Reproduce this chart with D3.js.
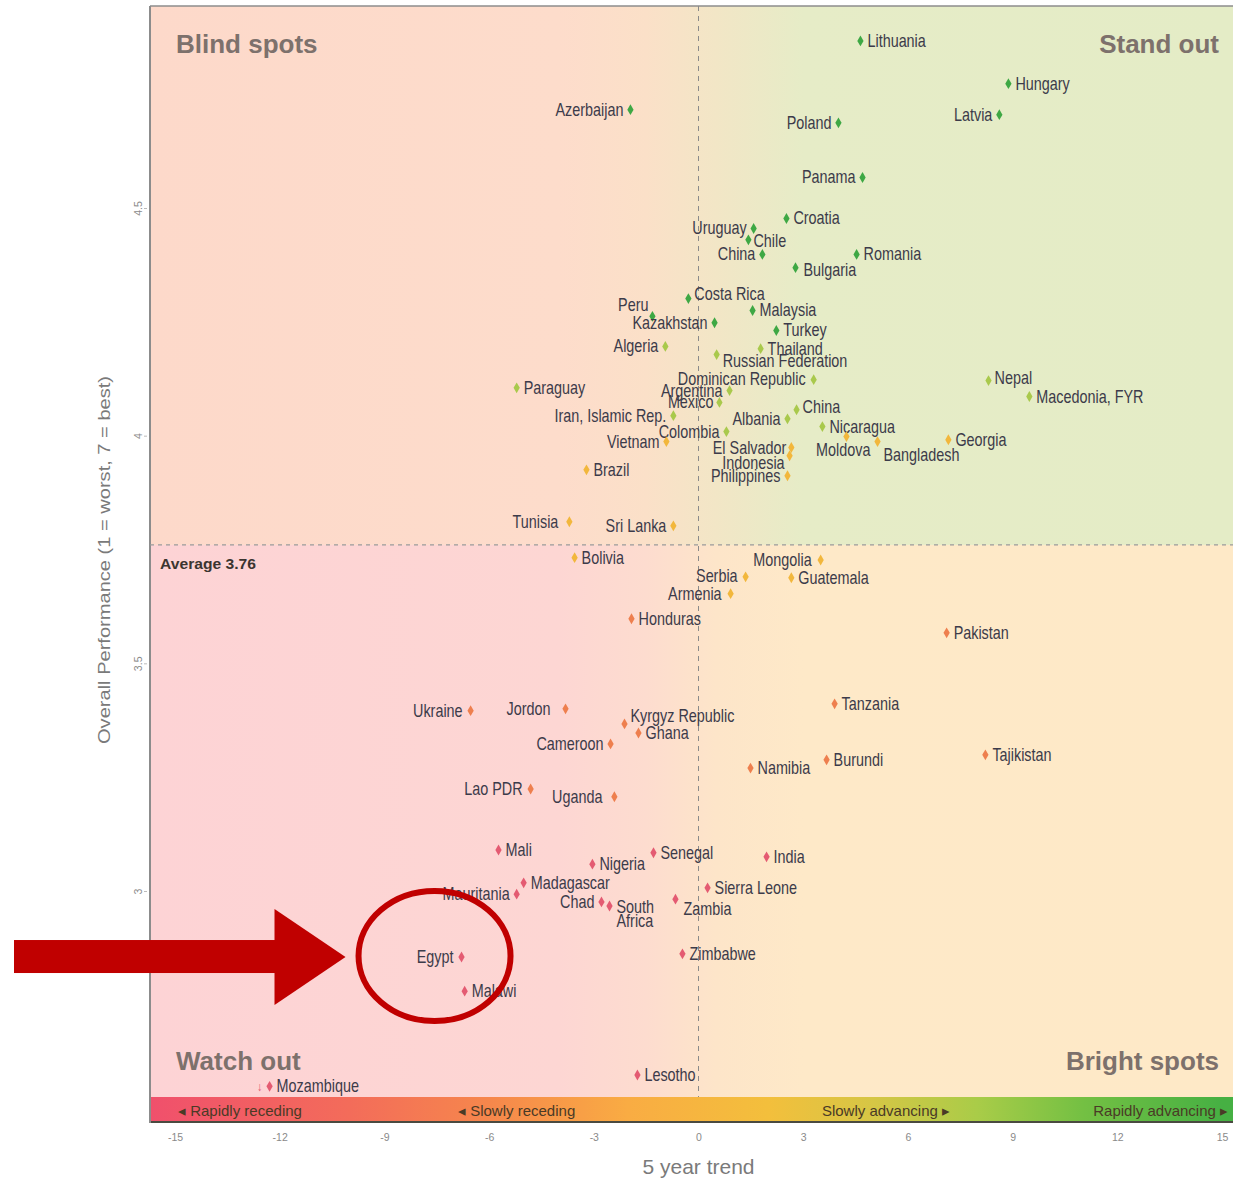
<!DOCTYPE html>
<html>
<head>
<meta charset="utf-8">
<script src="https://cdn.jsdelivr.net/npm/d3@7"></script>
<style>
  body { margin: 0; background: #fff; }
  svg { display: block; }
  .lbl { font-family: "Liberation Sans", Arial, sans-serif; font-size: 18px; fill: #3c3b4a; }
</style>
</head>
<body>
<div class="chart"></div>
<script>
// countries, 5 year trend (x) and overall performance (y)
var countries = ["Lithuania","Hungary","Azerbaijan","Latvia","Poland","Panama","Croatia","Uruguay","Chile","China",
  "Romania","Bulgaria","Costa Rica","Peru","Malaysia","Kazakhstan","Turkey","Algeria","Thailand","Russian Federation",
  "Paraguay","Dominican Republic","Nepal","Argentina","Mexico","Macedonia, FYR","Iran, Islamic Rep.","China ","Albania","Colombia",
  "Nicaragua","Vietnam","Georgia","El Salvador","Moldova","Bangladesh","Indonesia","Brazil","Philippines","Tunisia",
  "Sri Lanka","Bolivia","Mongolia","Serbia","Guatemala","Armenia","Honduras","Pakistan","Tanzania","Ukraine",
  "Jordon","Kyrgyz Republic","Ghana","Cameroon","Tajikistan","Burundi","Namibia","Lao PDR","Uganda","Mali",
  "Senegal","India","Nigeria","Madagascar","Sierra Leone","Mauritania","Chad","South Africa","Zambia","Egypt",
  "Zimbabwe","Malawi","Lesotho","Mozambique"];

var trend = [4.64, 8.88, -1.95, 8.62, 4.01, 4.70, 2.52, 1.58, 1.43, 1.83,
  4.53, 2.78, -0.29, -1.32, 1.55, 0.46, 2.23, -0.95, 1.78, 0.52,
  -5.21, 3.30, 8.31, 0.89, 0.60, 9.48, -0.72, 2.81, 2.55, 0.80,
  3.55, -0.92, 7.16, 2.66, 4.24, 5.13, 2.61, -3.21, 2.55, -3.70,
  -0.72, -3.55, 3.50, 1.35, 2.66, 0.92, -1.92, 7.11, 3.90, -6.53,
  -3.81, -2.12, -1.72, -2.52, 8.22, 3.67, 1.49, -4.81, -2.41, -5.73,
  -1.29, 1.95, -3.04, -5.01, 0.26, -5.21, -2.78, -2.55, -0.66, -6.79,
  -0.46, -6.70, -1.75, -12.29];

var performance = [4.867, 4.773, 4.716, 4.705, 4.687, 4.567, 4.477, 4.455, 4.430, 4.398,
  4.398, 4.369, 4.301, 4.262, 4.275, 4.248, 4.231, 4.196, 4.191, 4.178,
  4.105, 4.123, 4.121, 4.099, 4.073, 4.086, 4.044, 4.057, 4.037, 4.009,
  4.020, 3.987, 3.991, 3.974, 3.998, 3.987, 3.956, 3.925, 3.912, 3.811,
  3.802, 3.732, 3.727, 3.690, 3.688, 3.653, 3.598, 3.567, 3.411, 3.396,
  3.400, 3.367, 3.347, 3.323, 3.299, 3.288, 3.270, 3.224, 3.207, 3.090,
  3.084, 3.075, 3.059, 3.018, 3.007, 2.993, 2.976, 2.967, 2.982, 2.855,
  2.862, 2.780, 2.596, 2.571];

var average = 3.76;
var xTicks = [-15, -12, -9, -6, -3, 0, 3, 6, 9, 12, 15];
var yTicks = [3, 3.5, 4, 4.5];
var quadrants = ["Blind spots", "Stand out", "Watch out", "Bright spots"];
var bandLabels = ["Rapidly receding", "Slowly receding", "Slowly advancing", "Rapidly advancing"];

var W = 1233, H = 1182;
var plotLeft = 150, plotTop = 6, bandTop = 1097, plotBottom = 1123, plotRight = 1300;
var squeeze = 0.8;   // label fonts in the reference are condensed

var svg = d3.select(".chart").append("svg")
  .attr("width", W).attr("height", H);

var x = d3.scaleLinear().domain([-15, 15]).range([175, 1222]);
var y = d3.scaleLinear().domain([3, 4.5]).range([891, 208]);

var color = d3.scaleThreshold()
  .domain([3.15, 3.62, 4.0, 4.22])
  .range(["#e45b72", "#ee7f4e", "#f2b73c", "#a9c94c", "#3ea844"]);

// background gradients
var defs = svg.append("defs");
function grad(id, stops) {
  var g = defs.append("linearGradient").attr("id", id)
    .attr("gradientUnits", "userSpaceOnUse")
    .attr("x1", plotLeft).attr("x2", W).attr("y1", 0).attr("y2", 0);
  stops.forEach(function(s) {
    g.append("stop").attr("offset", (x(s[0]) - plotLeft) / (W - plotLeft)).attr("stop-color", s[1]);
  });
}
grad("gTop", [[-15.7, "#fdd9ca"], [-4, "#fddccb"], [-1.5, "#fbe0c8"], [0.5, "#f2e6c6"], [3, "#e6ecc7"], [15, "#e4ecc6"]]);
grad("gBot", [[-15.7, "#fdd3d5"], [-4, "#fdd6d3"], [-1.5, "#fddccf"], [0.5, "#fde5c9"], [3, "#fee9c8"], [15, "#fee9c7"]]);
grad("gBand", [[-15.7, "#f0506c"], [-10, "#f36c5a"], [-6, "#f6874c"], [-2, "#f9ac43"], [2, "#f3bf3c"], [5, "#d6c645"],
  [8, "#a9cc48"], [11, "#74c043"], [15, "#46b043"]]);

svg.append("rect").attr("x", plotLeft).attr("y", plotTop).attr("width", plotRight - plotLeft)
  .attr("height", y(average) - plotTop).attr("fill", "url(#gTop)");
svg.append("rect").attr("x", plotLeft).attr("y", y(average)).attr("width", plotRight - plotLeft)
  .attr("height", bandTop - y(average)).attr("fill", "url(#gBot)");
svg.append("rect").attr("x", plotLeft).attr("y", bandTop).attr("width", plotRight - plotLeft)
  .attr("height", plotBottom - bandTop).attr("fill", "url(#gBand)");
svg.append("line").attr("x1", plotLeft).attr("x2", plotRight).attr("y1", plotBottom - 1).attr("y2", plotBottom - 1)
  .attr("stroke", "#4a4a40").attr("stroke-width", 2);

// band labels with little arrow heads
var bandG = svg.append("g").attr("font-family", "'Liberation Sans', Arial, sans-serif")
  .attr("font-size", "15px").attr("fill", "#4a3a26");
var bandX = [178, 458, 950, 1228];
bandLabels.forEach(function(t, i) {
  var forward = i >= 2;
  bandG.append("text")
    .attr("x", bandX[i])
    .attr("y", bandTop + 19)
    .attr("text-anchor", forward ? "end" : "start")
    .text(forward ? t + "   \u25B8" : "\u25C2   " + t);
});

// frame
svg.append("line").attr("x1", plotLeft).attr("x2", plotRight).attr("y1", plotTop).attr("y2", plotTop)
  .attr("stroke", "#8c8c8c").attr("stroke-width", 1.5);
svg.append("line").attr("x1", plotLeft).attr("x2", plotLeft).attr("y1", plotTop).attr("y2", plotBottom)
  .attr("stroke", "#8c8c8c").attr("stroke-width", 2);

// reference lines
svg.append("line").attr("x1", x(0)).attr("x2", x(0)).attr("y1", plotTop).attr("y2", bandTop)
  .attr("stroke", "#8a8a8a").attr("stroke-width", 1).attr("stroke-dasharray", "5,5");
svg.append("line").attr("x1", plotLeft).attr("x2", plotRight).attr("y1", y(average)).attr("y2", y(average))
  .attr("stroke", "#9a9a9a").attr("stroke-width", 1.2).attr("stroke-dasharray", "4,4");
svg.append("text").attr("x", plotLeft + 10).attr("y", y(average) + 24)
  .attr("font-family", "'Liberation Sans', Arial, sans-serif").attr("font-weight", "bold")
  .attr("font-size", "15px").attr("fill", "#3b3530")
  .attr("textLength", 96).attr("lengthAdjust", "spacingAndGlyphs")
  .text("Average " + average);

// axes
var xAx = svg.append("g").attr("transform", "translate(0," + plotBottom + ")")
  .call(d3.axisBottom(x).tickValues(xTicks).tickSize(0).tickPadding(11).tickFormat(function(d) { return String(d); }));
xAx.select(".domain").remove();
xAx.selectAll("text").attr("font-family", "'Liberation Sans', Arial, sans-serif")
  .attr("font-size", "10.5px").attr("fill", "#8a8a8a");

var yAx = svg.append("g").attr("transform", "translate(" + (plotLeft - 3) + ",0)")
  .call(d3.axisLeft(y).tickValues(yTicks).tickSize(3).tickFormat(function(d) { return String(d); }));
yAx.select(".domain").remove();
yAx.selectAll("line").attr("stroke", "#bbb");
yAx.selectAll("text")
  .attr("font-family", "'Liberation Sans', Arial, sans-serif")
  .attr("font-size", "10.5px").attr("fill", "#8a8a8a")
  .attr("x", 0).attr("y", 0).attr("dy", "0.35em")
  .attr("transform", "translate(-9,0) rotate(-90)")
  .style("text-anchor", "middle");

svg.append("text").attr("transform", "translate(110,560) rotate(-90)")
  .attr("text-anchor", "middle").attr("font-family", "'Liberation Sans', Arial, sans-serif")
  .attr("font-size", "17px").attr("fill", "#7a7a7a")
  .attr("textLength", 368).attr("lengthAdjust", "spacingAndGlyphs")
  .text("Overall Performance (1 = worst, 7 = best)");

svg.append("text").attr("x", x(0)).attr("y", 1174)
  .attr("text-anchor", "middle").attr("font-family", "'Liberation Sans', Arial, sans-serif")
  .attr("font-size", "21px").attr("fill", "#7a7a7a")
  .text("5 year trend");

// quadrant names
var qG = svg.append("g").attr("font-family", "'Liberation Sans', Arial, sans-serif")
  .attr("font-size", "26px").attr("font-weight", "bold").attr("fill", "#7d716c");
qG.append("text").attr("x", 176).attr("y", 53).text(quadrants[0]);
qG.append("text").attr("x", 1219).attr("y", 53).attr("text-anchor", "end").text(quadrants[1]);
qG.append("text").attr("x", 176).attr("y", 1070).text(quadrants[2]);
qG.append("text").attr("x", 1219).attr("y", 1070).attr("text-anchor", "end").text(quadrants[3]);

// label placement: [dx, dy, anchor]
var L = [-7, 6, "end"], R = [7, 6, "start"];
var labelPos = {
  "Azerbaijan": L, "Latvia": L, "Poland": L, "Panama": L, "Uruguay": L, "China": L,
  "Chile": [5, 7, "start"], "Bulgaria": [8, 8, "start"], "Costa Rica": [6, 1, "start"],
  "Peru": [-4, -5, "end"], "Kazakhstan": L, "Algeria": L, "Russian Federation": [6, 12, "start"],
  "Dominican Republic": [-8, 5, "end"], "Nepal": [6, 3, "start"], "Argentina": L, "Mexico": [-6, 6, "end"],
  "Iran, Islamic Rep.": L, "China ": [6, 3, "start"], "Albania": L, "Colombia": L, "Vietnam": L,
  "El Salvador": [-5, 6, "end"], "Moldova": [24, 19, "end"], "Bangladesh": [6, 19, "start"],
  "Indonesia": [-5, 13, "end"], "Philippines": L, "Tunisia": [-11, 6, "end"], "Sri Lanka": L,
  "Mongolia": [-9, 6, "end"], "Serbia": [-8, 5, "end"], "Armenia": [-9, 6, "end"],
  "Ukraine": [-8, 6, "end"], "Jordon": [-15, 6, "end"], "Kyrgyz Republic": [6, -2, "start"],
  "Cameroon": L, "Lao PDR": [-8, 6, "end"], "Uganda": [-12, 6, "end"], "Mauritania": L, "Chad": L,
  "Zambia": [8, 16, "start"], "Egypt": [-8, 6, "end"]
};

var pts = countries.map(function(c, i) {
  return { name: c, trend: trend[i], perf: performance[i] };
});

var diamond = d3.symbol().type(d3.symbolDiamond).size(34);

var g = svg.selectAll(".pt").data(pts).enter().append("g")
  .attr("class", "pt")
  .attr("transform", function(d) { return "translate(" + x(d.trend) + "," + y(d.perf) + ")"; });

g.append("path").attr("d", diamond)
  .attr("fill", function(d) { return color(d.perf); });

g.append("text").attr("class", "lbl")
  .attr("transform", "scale(" + squeeze + ",1)")
  .each(function(d) {
    var p = labelPos[d.name] || R;
    var t = d3.select(this).attr("x", p[0] / squeeze).attr("y", p[1]).attr("text-anchor", p[2]);
    if (d.name == "South Africa") {
      t.append("tspan").attr("x", 7 / squeeze).attr("y", 7).text("South");
      t.append("tspan").attr("x", 7 / squeeze).attr("y", 21).text("Africa");
    } else {
      t.text(d.name.trim());
    }
  });

// small off-chart arrow next to Mozambique
var moz = pts[pts.length - 1];
svg.append("text").attr("x", x(moz.trend) - 7).attr("y", y(moz.perf) + 5)
  .attr("text-anchor", "end").attr("font-family", "'Liberation Sans', Arial, sans-serif")
  .attr("font-size", "12px").attr("fill", color(moz.perf)).text("\u2193");

// red annotation: arrow and circle around Egypt
var egypt = pts[countries.indexOf("Egypt")];
var ex = x(egypt.trend), ey = y(egypt.perf);
var ann = svg.append("g").attr("fill", "#c00000");
ann.append("rect").attr("x", 14).attr("y", ey - 17).attr("width", 266).attr("height", 33);
ann.append("path").attr("d", "M" + (ex - 187) + "," + (ey - 48) + "L" + (ex - 116) + "," + ey + "L" + (ex - 187) + "," + (ey + 48) + "Z");
svg.append("ellipse").attr("cx", ex - 27).attr("cy", ey - 1).attr("rx", 76).attr("ry", 65)
  .attr("fill", "none").attr("stroke", "#c00000").attr("stroke-width", 6);
</script>
</body>
</html>
